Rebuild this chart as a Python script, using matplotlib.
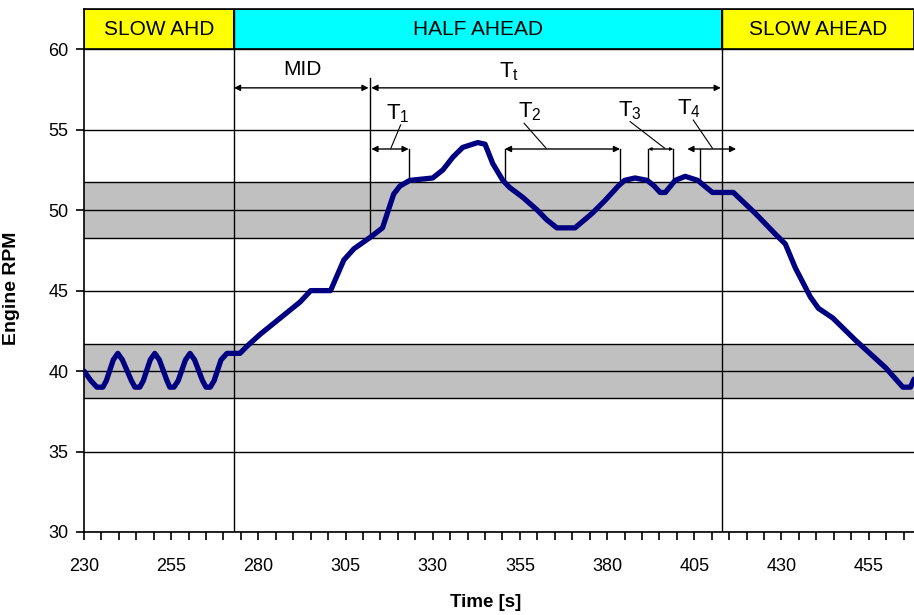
import matplotlib
matplotlib.use('Agg')
import matplotlib.pyplot as plt
from matplotlib.patches import Rectangle

plt.rcParams['font.family'] = ['Liberation Sans', 'DejaVu Sans']
plt.rcParams['mathtext.fontset'] = 'custom'
plt.rcParams['mathtext.rm'] = 'Liberation Sans'
plt.rcParams['mathtext.it'] = 'Liberation Sans'

# engine rpm trace
time_s = [230, 232, 233.7, 235.4, 236.4, 238.4, 239.7, 241.0, 243.6, 244.6,
          246.0, 247.0, 249.0, 250.3, 251.6, 253.8, 254.6, 255.8, 257.0, 259.1,
          260.4, 261.7, 264.0, 265.0, 266.2, 267.3, 269.3, 271.0, 274.7, 277.0,
          280.6, 286.3, 292.0, 295.0, 300.7, 304.5, 307.4, 312.0, 315.6, 318.8,
          320.6, 323.4, 330.0, 332.9, 335.8, 338.6, 342.9, 345.0, 347.2, 350.1,
          352.1, 355.8, 360.0, 362.7, 365.6, 370.8, 375.7, 379.4, 383.2, 385.0,
          388.0, 391.5, 393.5, 395.2, 396.7, 398.2, 399.5, 402.4, 406.0, 408.5,
          410.2, 416.2, 422.5, 428.3, 431.1, 434.0, 438.3, 440.6, 444.7, 451.3,
          459.9, 464.8, 467.0, 468.0]
rpm = [40.0, 39.4, 39.0, 39.0, 39.4, 40.7, 41.1, 40.7, 39.4, 39.0,
       39.0, 39.4, 40.7, 41.1, 40.7, 39.4, 39.0, 39.0, 39.4, 40.7,
       41.1, 40.7, 39.4, 39.0, 39.0, 39.4, 40.7, 41.1, 41.1, 41.6,
       42.3, 43.3, 44.3, 45.0, 45.0, 46.9, 47.6, 48.3, 48.9, 51.0,
       51.5, 51.85, 52.0, 52.5, 53.3, 53.9, 54.2, 54.1, 52.9, 51.85,
       51.4, 50.8, 50.0, 49.4, 48.9, 48.9, 49.8, 50.6, 51.5, 51.85,
       52.0, 51.85, 51.5, 51.1, 51.1, 51.5, 51.85, 52.1, 51.85, 51.4,
       51.1, 51.1, 49.8, 48.5, 47.9, 46.4, 44.6, 43.9, 43.3, 41.9,
       40.2, 39.0, 39.0, 39.5]

# telegraph order phases
phase_names = ['SLOW AHD', 'HALF AHEAD', 'SLOW AHEAD']
phase_edges = [230, 273, 413, 468]
phase_colors = ['#FFFF00', '#00FFFF', '#FFFF00']

# tolerance bands
bands = [(38.3, 41.7), (48.3, 51.75)]

x_ticks = [230, 255, 280, 305, 330, 355, 380, 405, 430, 455]
y_ticks = [30, 35, 40, 45, 50, 55, 60]

# dimension markers: (label, start, end)
mid_span = ('MID', 273, 311.6)
tt_span = ('T$_{\\mathrm{t}}$', 312.4, 412.6)
t_spans = [('T$_{\\mathrm{1}}$', 312.4, 323.1),
           ('T$_{\\mathrm{2}}$', 350.7, 383.7),
           ('T$_{\\mathrm{3}}$', 391.8, 399.0),
           ('T$_{\\mathrm{4}}$', 403.0, 417.0)]

fig = plt.figure(figsize=(9.14, 6.15), dpi=100)
ax = fig.add_axes([84 / 914, 83 / 615, 830 / 914, 523 / 615])
ax.set_xlim(230, 468)
ax.set_ylim(30, 62.5)

for lo, hi in bands:
    ax.axhspan(lo, hi, color='#C0C0C0', zorder=0, lw=0)
    ax.axhline(lo, color='black', lw=1, zorder=1)
    ax.axhline(hi, color='black', lw=1, zorder=1)

for y in y_ticks:
    ax.axhline(y, color='black', lw=1, zorder=1)

for name, x0, x1, c in zip(phase_names, phase_edges[:-1], phase_edges[1:], phase_colors):
    ax.add_patch(Rectangle((x0, 60), x1 - x0, 2.5, fc=c, ec='black', lw=1.2, zorder=2))
    ax.text((x0 + x1) / 2, 61.2, name, ha='center', va='center', fontsize=15, zorder=3)

for x in phase_edges[1:3]:
    ax.axvline(x, color='black', lw=1, zorder=2)

ax.plot(time_s, rpm, color='#000080', lw=3.8, zorder=4,
        solid_joinstyle='round', solid_capstyle='round')

arrow = dict(arrowstyle='<|-|>', mutation_scale=9, color='black', lw=1,
             shrinkA=0, shrinkB=0)
small_arrow = dict(arrow, mutation_scale=4)

# MID and Tt
ax.annotate('', xy=(mid_span[1], 57.6), xytext=(mid_span[2], 57.6), arrowprops=arrow)
ax.text(292.6, 58.75, mid_span[0], ha='center', va='center', fontsize=15)
ax.plot([312, 312], [48.3, 58.2], color='black', lw=1, zorder=3)
ax.annotate('', xy=(tt_span[1], 57.6), xytext=(tt_span[2], 57.6), arrowprops=arrow)
ax.text(352, 58.6, tt_span[0], ha='center', va='center', fontsize=16)

# T1..T4 dimensions
y_dim = 53.8
label_pos = [(320.0, 56.0), (357.9, 56.1), (386.6, 56.2), (403.4, 56.3)]
leaders = [((318.0, 53.85), (320.8, 55.3)),
           ((362.5, 53.85), (356.2, 55.4)),
           ((396.5, 53.85), (386.6, 55.5)),
           ((410.2, 53.85), (404.7, 55.6))]
for (lab, x0, x1), (lx, ly), (p0, p1) in zip(t_spans, label_pos, leaders):
    props = small_arrow if lab.endswith('3}}$') else arrow
    ax.annotate('', xy=(x0, y_dim), xytext=(x1, y_dim), arrowprops=props)
    ax.text(lx, ly, lab, ha='center', va='center', fontsize=16)
    ax.plot([p0[0], p1[0]], [p0[1], p1[1]], color='black', lw=0.8, zorder=3)

# drop lines from dimensions to the trace
for x in [323.1, 350.7, 383.7, 391.8, 399.0, 406.7]:
    ax.plot([x, x], [51.85, y_dim], color='black', lw=1, zorder=3)

ax.set_yticks(y_ticks)
ax.set_xticks(x_ticks)
ax.set_xticks(range(230, 468, 5), minor=True)
ax.tick_params(axis='both', which='both', direction='out', length=6,
               width=1.2, color='black')
ax.tick_params(axis='y', labelsize=13, pad=5)
ax.tick_params(axis='x', which='major', labelsize=13, pad=13)
ax.spines['right'].set_visible(False)
for side in ['left', 'bottom', 'top']:
    ax.spines[side].set_linewidth(1.2)

ax.set_xlabel('Time [s]', fontsize=13.5, fontweight='bold')
ax.set_ylabel('Engine RPM', fontsize=14, fontweight='bold')
ax.xaxis.set_label_coords(0.484, -0.118)
ax.yaxis.set_label_coords(-0.077, 0.465)

fig.savefig('out.png', dpi=100)
